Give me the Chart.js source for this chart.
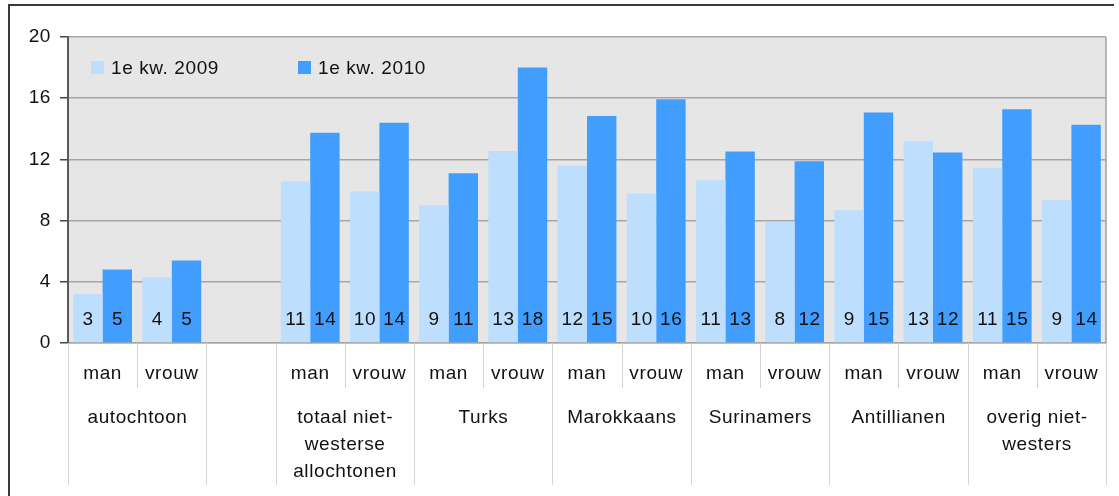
<!DOCTYPE html>
<html lang="nl">
<head>
  <meta charset="UTF-8">
  <title>1e kw. 2009 / 1e kw. 2010</title>
  <script src="https://cdn.jsdelivr.net/npm/chart.js"></script>
  <style>
    html, body { margin: 0; padding: 0; background: #ffffff; }
    #wrap { width: 1119px; height: 496px; }
  </style>
</head>
<body>
  <div id="wrap"><canvas id="chart" width="1119" height="496"></canvas></div>

  <script>
    // categories: two sub-bars per group, one empty slot after "autochtoon"
    const subLabels = ['man', 'vrouw', '', 'man', 'vrouw', 'man', 'vrouw', 'man', 'vrouw',
                       'man', 'vrouw', 'man', 'vrouw', 'man', 'vrouw'];
    const groupLabels = [['autochtoon'], ['totaal niet-', 'westerse', 'allochtonen'], ['Turks'],
                         ['Marokkaans'], ['Surinamers'], ['Antillianen'], ['overig niet-', 'westers']];
    const groupStart = [0, 3, 5, 7, 9, 11, 13];

    const seriesNames = ['1e kw. 2009', '1e kw. 2010'];
    const kw2009 = [3.2, 4.3, null, 10.55, 9.9, 9.0, 12.55, 11.6, 9.77, 10.64, 7.92, 8.68, 13.19, 11.42, 9.33];
    const kw2010 = [4.8, 5.4, null, 13.75, 14.4, 11.1, 18.0, 14.84, 15.93, 12.51, 11.88, 15.06, 12.45, 15.27, 14.27];
    const yTicks = [0, 4, 8, 12, 16, 20];

    const FAMILY = '"Liberation Sans", Arial, sans-serif';
    const FONT = '19px ' + FAMILY;

    const decor = {
      id: 'decor',
      beforeDraw(chart) {
        const { ctx, chartArea: a } = chart;
        ctx.letterSpacing = '0.6px';
        ctx.save();
        ctx.fillStyle = '#ffffff';
        ctx.fillRect(0, 0, chart.width, chart.height);
        ctx.fillStyle = '#e6e6e6';
        ctx.fillRect(a.left, a.top, a.right - a.left, a.bottom - a.top);
        // outer frame (left + top)
        ctx.strokeStyle = '#3a3a3a';
        ctx.lineWidth = 2;
        ctx.beginPath();
        ctx.moveTo(9, chart.height);
        ctx.lineTo(9, 5);
        ctx.lineTo(1114, 5);
        ctx.stroke();
        ctx.restore();
      },
      afterDatasetsDraw(chart) {
        const { ctx } = chart;
        const y0 = chart.scales.y.getPixelForValue(0);
        ctx.save();
        ctx.font = FONT;
        ctx.fillStyle = '#111111';
        ctx.textAlign = 'center';
        ctx.textBaseline = 'alphabetic';
        chart.data.datasets.forEach((ds, di) => {
          chart.getDatasetMeta(di).data.forEach((bar, i) => {
            if (ds.data[i] == null) return;
            ctx.fillText(String(Math.round(ds.data[i])), bar.x + 0.3, y0 - 18);
          });
        });
        ctx.restore();
      },
      afterDraw(chart) {
        const { ctx, chartArea: a } = chart;
        const xs = chart.scales.x;
        const half = (xs.getPixelForValue(1) - xs.getPixelForValue(0)) / 2;
        const n = subLabels.length;
        const bound = i => (i < n ? xs.getPixelForValue(i) - half : xs.getPixelForValue(n - 1) + half);
        const longB = new Set([n]);
        groupStart.forEach(g => { longB.add(g); longB.add(g + 2); });

        ctx.save();
        // right border of plot area
        ctx.strokeStyle = '#a0a0a0';
        ctx.lineWidth = 1.5;
        ctx.beginPath();
        ctx.moveTo(a.right, a.top);
        ctx.lineTo(a.right, a.bottom);
        ctx.stroke();

        // category dividers below axis
        ctx.strokeStyle = '#d4d4d4';
        ctx.lineWidth = 1;
        for (let i = 0; i <= n; i++) {
          const x = Math.round(bound(i)) + 0.5;
          ctx.beginPath();
          ctx.moveTo(x, a.bottom);
          ctx.lineTo(x, a.bottom + (longB.has(i) ? 142 : 45));
          ctx.stroke();
        }

        // group labels
        ctx.font = FONT;
        ctx.fillStyle = '#111111';
        ctx.textAlign = 'center';
        ctx.textBaseline = 'alphabetic';
        groupLabels.forEach((lines, gi) => {
          const cx = (bound(groupStart[gi]) + bound(groupStart[gi] + 2)) / 2;
          lines.forEach((t, k) => ctx.fillText(t, cx + 0.3, a.bottom + 80 + k * 27));
        });

        // legend inside plot area
        ctx.textAlign = 'left';
        const legX = [a.left + 23, a.left + 230];
        chart.data.datasets.forEach((ds, di) => {
          ctx.fillStyle = ds.backgroundColor;
          ctx.fillRect(legX[di], a.top + 24, 13, 13);
          ctx.fillStyle = '#111111';
          ctx.fillText(ds.label, legX[di] + 20, a.top + 37);
        });
        ctx.restore();
      }
    };

    const chart = new Chart(document.getElementById('chart'), {
      type: 'bar',
      data: {
        labels: subLabels,
        datasets: [
          {
            label: seriesNames[0],
            data: kw2009,
            backgroundColor: '#bddefc',
            categoryPercentage: 0.85,
            barPercentage: 1
          },
          {
            label: seriesNames[1],
            data: kw2010,
            backgroundColor: '#419eff',
            categoryPercentage: 0.85,
            barPercentage: 1
          }
        ]
      },
      options: {
        responsive: false,
        animation: false,
        devicePixelRatio: 1,
        layout: { padding: { top: 37, right: 13, left: 0, bottom: 0 } },
        plugins: {
          legend: { display: false },
          tooltip: { enabled: false }
        },
        scales: {
          x: {
            afterFit: s => { s.height = 153; },
            grid: { display: false, drawTicks: false },
            border: { display: true, color: '#bdbdbd', width: 1 },
            ticks: {
              autoSkip: false,
              maxRotation: 0,
              padding: 19,
              color: '#111111',
              font: { family: FAMILY, size: 19 }
            }
          },
          y: {
            min: 0,
            max: 20,
            afterFit: s => { s.width = 68; },
            afterBuildTicks: s => { s.ticks = yTicks.map(v => ({ value: v })); },
            grid: { color: '#a6a6a6', lineWidth: 1.5, tickColor: '#444444', tickLength: 8 },
            border: { color: '#5a5a5a', width: 2 },
            ticks: {
              padding: 9,
              color: '#111111',
              font: { family: FAMILY, size: 19 }
            }
          }
        }
      },
      plugins: [decor]
    });
  </script>
</body>
</html>
